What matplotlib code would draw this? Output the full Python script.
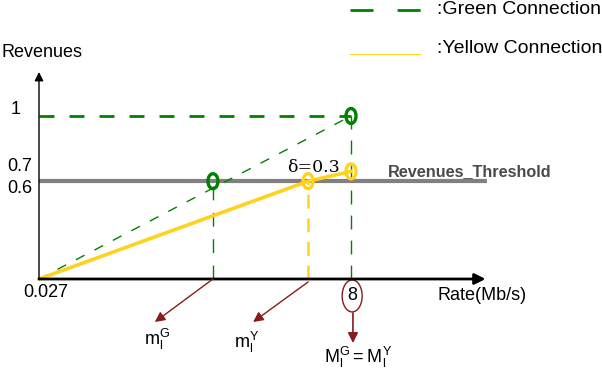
import matplotlib
matplotlib.use('Agg')
import numpy as np
from matplotlib import pyplot as plt
from matplotlib.patches import Ellipse

plt.rcParams['font.family'] = ['Liberation Sans', 'DejaVu Sans']
plt.rcParams['mathtext.fontset'] = 'custom'
plt.rcParams['mathtext.rm'] = 'Liberation Sans'
plt.rcParams['lines.scale_dashes'] = False

# values (rate in Mb/s, revenue normalised)
rate_max = 8.0
rate_min_label = '0.027'
rate_m_green = 4.46
rate_m_yellow = 6.90
rate_axis_end = 11.45
revenue_ticks = [1.0, 0.7, 0.6]
revenue_tick_labels = ['1', '0.7', '0.6']
revenue_label_y = [1.037, 0.693, 0.558]
threshold = 0.6
green_end = 1.0
yellow_end = 0.66
delta_label = 'δ=0.3'

GREEN = '#008000'
YELLOW = '#FFD21E'
GRAY = '#808080'
BROWN = '#8B1A1A'

fig = plt.figure(figsize=(6.02, 3.70), dpi=100)
ax = fig.add_axes([0, 0, 1, 1])
# x=0 at px 39 with 39 px per Mb/s; y=0 at px 279 with 163 px per unit
ax.set_xlim(-1.0, (602 - 39) / 39)
ax.set_ylim(-(370 - 279) / 163, 279 / 163)
ax.axis('off')

# axes arrows
ax.annotate('', xy=(rate_axis_end, 0), xytext=(0, 0),
            arrowprops=dict(arrowstyle='-|>', color='black', lw=2.0,
                            mutation_scale=16, shrinkA=0, shrinkB=0))
ax.annotate('', xy=(0, 1.27), xytext=(0, 0),
            arrowprops=dict(arrowstyle='-|>', color='black', lw=1.0,
                            mutation_scale=13, shrinkA=0, shrinkB=0))
ax.text(-0.95, 1.387, 'Revenues', fontsize=13, va='center', ha='left')
ax.text(10.23, -0.104, 'Rate(Mb/s)', fontsize=13, va='center', ha='left')
ax.text(-0.41, -0.080, rate_min_label, fontsize=13, va='center', ha='left')
for y, lab in zip(revenue_label_y, revenue_tick_labels):
    ax.text(-0.49 if lab != '1' else -0.60, y, lab, fontsize=13, va='center', ha='center')

# threshold
ax.plot([0, 11.49], [threshold, threshold], color=GRAY, lw=3, solid_capstyle='butt')
ax.text(8.95, 0.66, 'Revenues_Threshold', fontsize=11.7,
        fontweight='bold', color='#4a4a4a', va='center', ha='left')

# green connection
ax.plot([0, rate_max], [green_end, green_end], color=GREEN, lw=2.0, dashes=(10.8, 10.8))
ax.plot([0, rate_max], [0, green_end], color=GREEN, lw=1.0, dashes=(7, 8))
ax.plot([rate_max, rate_max], [0, green_end], color=GREEN, lw=1.0, dashes=(10, 8))
ax.plot([rate_m_green, rate_m_green], [0, threshold], color=GREEN, lw=1.0, dashes=(10, 9))

# yellow connection
ax.plot([0, rate_m_yellow, rate_max], [0, threshold, yellow_end], color=YELLOW, lw=2.6)
ax.plot([rate_m_yellow, rate_m_yellow], [0, threshold], color=YELLOW, lw=1.8, dashes=(10, 7))
ax.text(7.03, 0.681, delta_label, fontsize=12.5, va='center', ha='center',
        family=['DejaVu Serif'])

# circle markers
for x, y, c in [(rate_max, green_end, GREEN), (rate_m_green, threshold, GREEN),
                (rate_m_yellow, threshold, YELLOW), (rate_max, yellow_end, YELLOW)]:
    ax.add_patch(Ellipse((x, y), 10 / 39, 15 / 163, fill=False, edgecolor=c, lw=2.4, zorder=5))

# "8" in a circle and its arrow
ax.text(8.03, -0.104, '8', fontsize=13, va='center', ha='center')
ax.add_patch(Ellipse((8.03, -0.104), 20 / 39, 32 / 163, fill=False, edgecolor=BROWN, lw=1.0))
ax.annotate('', xy=(8.05, -0.393), xytext=(8.05, -0.209),
            arrowprops=dict(arrowstyle='-|>', color=BROWN, lw=1.2,
                            mutation_scale=15, shrinkA=0, shrinkB=0))
ax.text(8.18, -0.48, r'$\mathregular{M_l^G = M_l^Y}$', fontsize=13, va='center', ha='center')

# m arrows
ax.annotate('', xy=(2.97, -0.264), xytext=(rate_m_green, 0),
            arrowprops=dict(arrowstyle='-|>', color=BROWN, lw=1.0,
                            mutation_scale=15, shrinkA=0, shrinkB=0))
ax.annotate('', xy=(5.49, -0.264), xytext=(rate_m_yellow, -0.018),
            arrowprops=dict(arrowstyle='-|>', color=BROWN, lw=1.0,
                            mutation_scale=15, shrinkA=0, shrinkB=0))
ax.text(3.03, -0.368, r'$\mathregular{m_l^G}$', fontsize=13, va='center', ha='center')
ax.text(5.33, -0.387, r'$\mathregular{m_l^Y}$', fontsize=13, va='center', ha='center')

# legend
ax.plot([7.97, 9.82], [1.65, 1.65], color=GREEN, lw=2.0, dashes=(16.6, 17.3))
ax.text(10.2, 1.656, ':Green Connection', fontsize=14, va='center', ha='left')
ax.plot([7.97, 9.77], [1.38, 1.38], color=YELLOW, lw=0.7)
ax.text(10.2, 1.417, ':Yellow Connection', fontsize=14, va='center', ha='left')

fig.savefig('out.png', dpi=100)
